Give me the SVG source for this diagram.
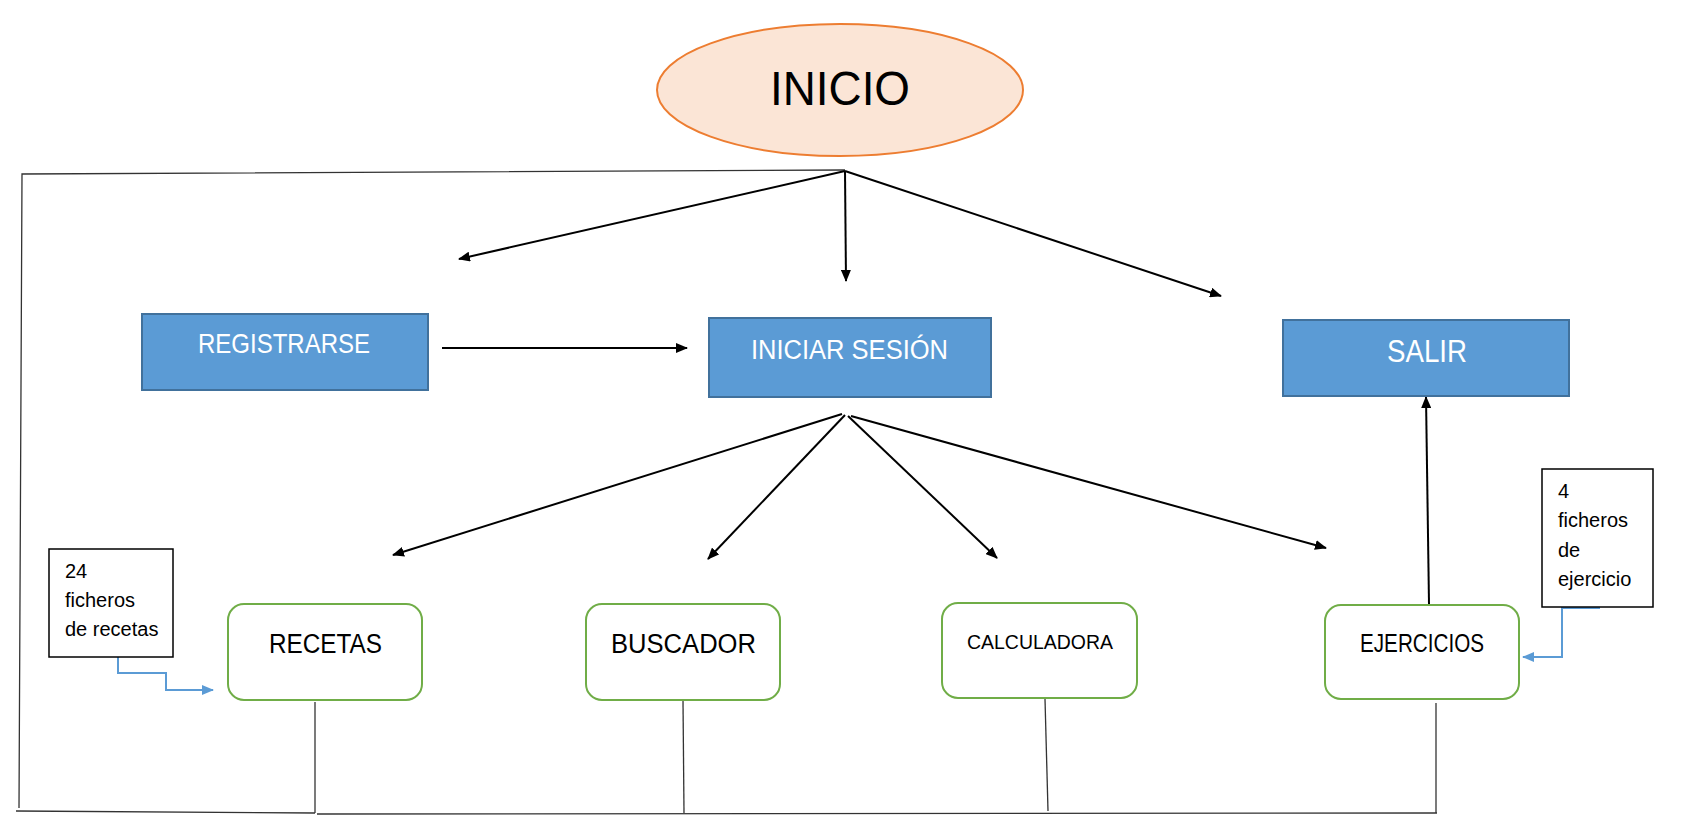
<svg xmlns="http://www.w3.org/2000/svg" width="1681" height="832" viewBox="0 0 1681 832">
<style>
.blue{fill:#5B9BD5;stroke:#41719C;stroke-width:2}
.green{fill:#FFFFFF;stroke:#70AD47;stroke-width:2}
.note{fill:#FFFFFF;stroke:#000000;stroke-width:1.5}
.lbl{font-family:"Liberation Sans",Arial,sans-serif;fill:#FFFFFF}
.dk{font-family:"Liberation Sans",Arial,sans-serif;fill:#000000}
.arr{stroke:#000000;stroke-width:2;fill:none;marker-end:url(#ah)}
.barr{stroke:#5B9BD5;stroke-width:2;fill:none;marker-end:url(#bh)}
.thin{stroke:#333333;stroke-width:1.3;fill:none}
</style>
<defs>
<marker id="ah" viewBox="0 0 12 10" refX="11" refY="5" markerWidth="12" markerHeight="10" markerUnits="userSpaceOnUse" orient="auto">
<path d="M0,0 L12,5 L0,10 Z" fill="#000000"/>
</marker>
<marker id="bh" viewBox="0 0 12 10" refX="11" refY="5" markerWidth="12" markerHeight="10" markerUnits="userSpaceOnUse" orient="auto">
<path d="M0,0 L12,5 L0,10 Z" fill="#5B9BD5"/>
</marker>
</defs>
<rect width="1681" height="832" fill="#FFFFFF"/>
<g id="connectors">
<polyline class="thin" points="845,170 22,174 19,808"/>
<line class="thin" x1="16" y1="811" x2="315" y2="813"/>
<line class="thin" x1="315" y1="702" x2="315" y2="813"/>
<line class="thin" x1="317" y1="814" x2="1437" y2="813"/>
<line class="thin" x1="683" y1="701" x2="684" y2="813"/>
<line class="thin" x1="1045" y1="699" x2="1048" y2="811"/>
<line class="thin" x1="1436" y1="703" x2="1436" y2="813"/>
<line class="arr" x1="845" y1="171" x2="459" y2="259"/>
<line class="arr" x1="845" y1="171" x2="846" y2="281"/>
<line class="arr" x1="845" y1="171" x2="1221" y2="296"/>
<line class="arr" x1="442" y1="348" x2="687" y2="348"/>
<line class="arr" x1="842" y1="414" x2="393" y2="555"/>
<line class="arr" x1="845" y1="415" x2="708" y2="559"/>
<line class="arr" x1="848" y1="416" x2="997" y2="558"/>
<line class="arr" x1="851" y1="416" x2="1326" y2="548"/>
<line class="arr" x1="1429" y1="604" x2="1426" y2="397"/>
<polyline class="barr" points="118,657 118,673 166,673 166,690 213,690"/>
<polyline class="barr" points="1600,608 1562,608 1562,657 1523,657"/>
</g>
<g id="inicio">
<ellipse cx="840" cy="90" rx="183" ry="66" fill="#FBE5D6" stroke="#ED7D31" stroke-width="2"/>
<text class="dk" x="770" y="105" font-size="48" textLength="140" lengthAdjust="spacingAndGlyphs">INICIO</text>
</g>
<g id="registrarse">
<rect class="blue" x="142" y="314" width="286" height="76"/>
<text class="lbl" x="198" y="353" font-size="28" textLength="172" lengthAdjust="spacingAndGlyphs">REGISTRARSE</text>
</g>
<g id="iniciar-sesion">
<rect class="blue" x="709" y="318" width="282" height="79"/>
<text class="lbl" x="751" y="359" font-size="27" textLength="197" lengthAdjust="spacingAndGlyphs">INICIAR SESIÓN</text>
</g>
<g id="salir">
<rect class="blue" x="1283" y="320" width="286" height="76"/>
<text class="lbl" x="1387" y="362" font-size="31" textLength="80" lengthAdjust="spacingAndGlyphs">SALIR</text>
</g>
<g id="recetas">
<rect class="green" x="228" y="604" width="194" height="96" rx="16"/>
<text class="dk" x="269" y="653" font-size="27" textLength="113" lengthAdjust="spacingAndGlyphs">RECETAS</text>
</g>
<g id="buscador">
<rect class="green" x="586" y="604" width="194" height="96" rx="16"/>
<text class="dk" x="611" y="653" font-size="27" textLength="145" lengthAdjust="spacingAndGlyphs">BUSCADOR</text>
</g>
<g id="calculadora">
<rect class="green" x="942" y="603" width="195" height="95" rx="16"/>
<text class="dk" x="967" y="649" font-size="20" textLength="146" lengthAdjust="spacingAndGlyphs">CALCULADORA</text>
</g>
<g id="ejercicios">
<rect class="green" x="1325" y="605" width="194" height="94" rx="16"/>
<text class="dk" x="1360" y="652" font-size="25" textLength="124" lengthAdjust="spacingAndGlyphs">EJERCICIOS</text>
</g>
<g id="nota-recetas">
<rect class="note" x="49" y="549" width="124" height="108"/>
<text class="dk" font-size="20"><tspan x="65" y="578">24</tspan><tspan x="65" y="607">ficheros</tspan><tspan x="65" y="636">de recetas</tspan></text>
</g>
<g id="nota-ejercicios">
<rect class="note" x="1542" y="469" width="111" height="138"/>
<text class="dk" font-size="20"><tspan x="1558" y="498">4</tspan><tspan x="1558" y="527">ficheros</tspan><tspan x="1558" y="557">de</tspan><tspan x="1558" y="586">ejercicio</tspan></text>
</g>
</svg>
